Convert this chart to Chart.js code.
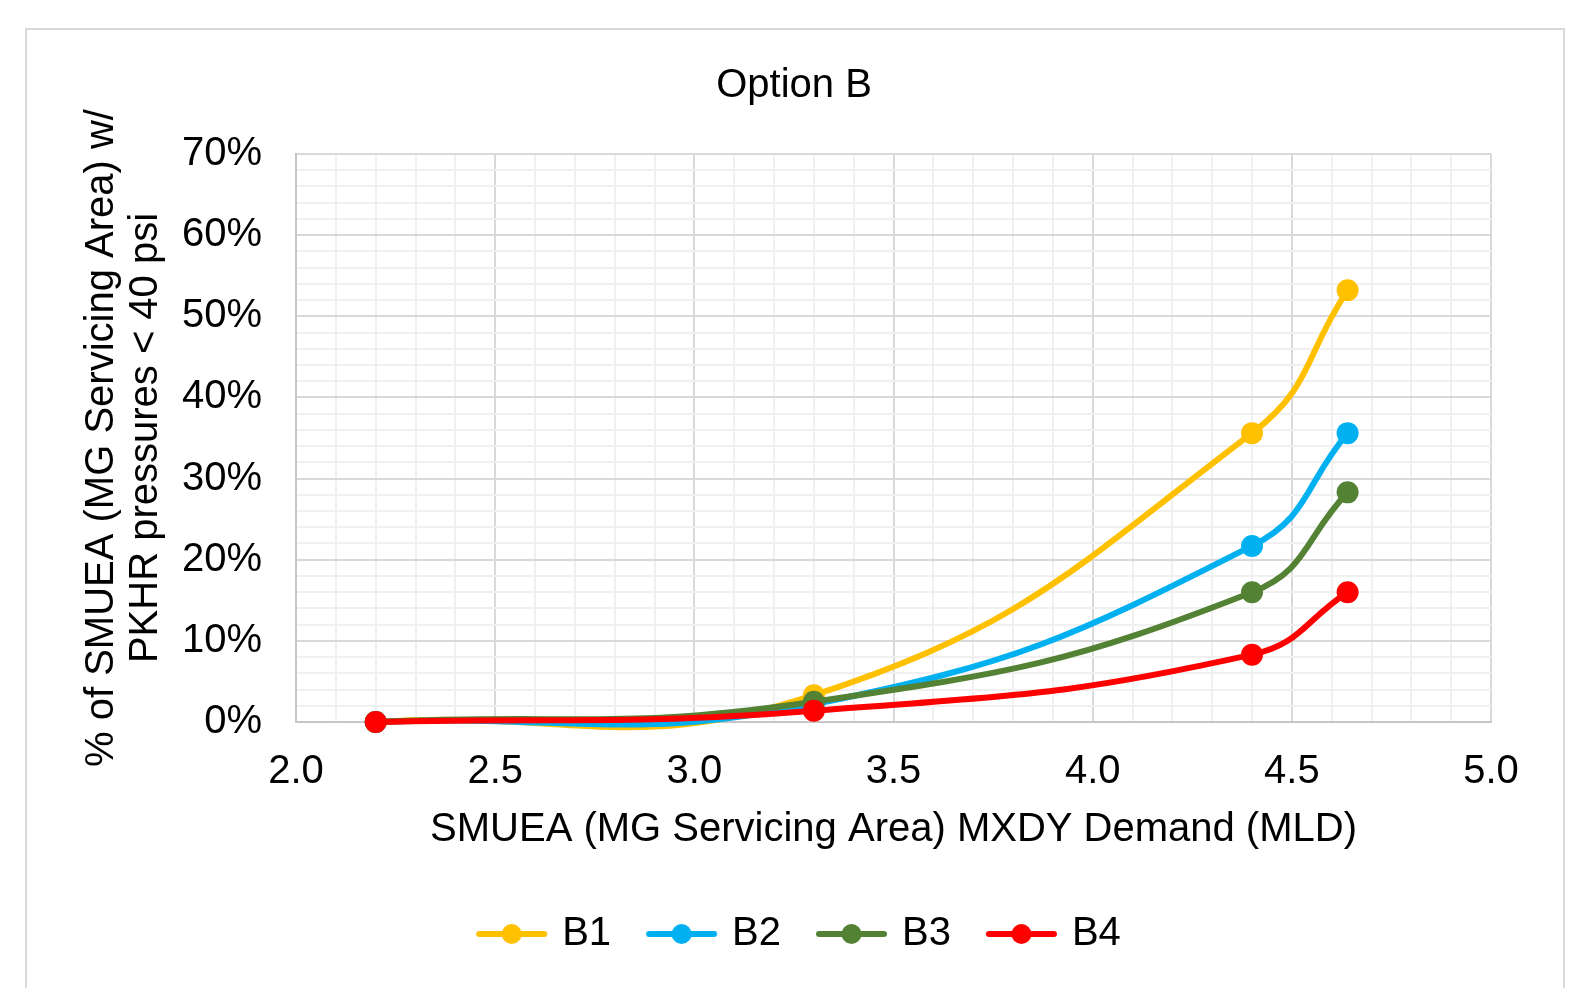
<!DOCTYPE html>
<html>
<head>
<meta charset="utf-8">
<script src="https://cdn.jsdelivr.net/npm/chart.js@4.4.1/dist/chart.umd.min.js"></script>
<style>
  html, body { margin: 0; padding: 0; background: #fff; overflow: hidden; }
  #frame { position: absolute; left: 25px; top: 28px; width: 1536px; height: 1000px; border: 2px solid #d9d9d9; }
  #wrap { position: absolute; left: 0; top: 0; width: 1588px; height: 988px; }
</style>
</head>
<body>
<div id="frame"></div>
<div id="wrap"><canvas id="canvas" width="1588" height="988"></canvas></div>
<script>
const demand = [2.2, 3.3, 4.4, 4.64]
const seriesNames = ['B1', 'B2', 'B3', 'B4']
const b1 = [0, 3.3, 35.6, 53.2]
const b2 = [0, 2.2, 21.7, 35.6]
const b3 = [0, 2.5, 16.0, 28.3]
const b4 = [0, 1.4, 8.3, 16.0]
const colors = ['#FFC000', '#00B0F0', '#548235', '#FF0000']

const FONT = "'Liberation Sans', Arial, sans-serif"
const FS = 40

// little line-with-dot marker for the legend, like Excel
function legendMarker(color) {
  const c = document.createElement('canvas')
  c.width = 73
  c.height = 24
  const ctx = c.getContext('2d')
  ctx.strokeStyle = color
  ctx.lineWidth = 6
  ctx.lineCap = 'round'
  ctx.beginPath()
  ctx.moveTo(4, 12)
  ctx.lineTo(69, 12)
  ctx.stroke()
  ctx.fillStyle = color
  ctx.beginPath()
  ctx.arc(36.5, 12, 10, 0, Math.PI * 2)
  ctx.fill()
  return c
}

const allSeries = [b1, b2, b3, b4]
const datasets = allSeries.map((vals, i) => ({
  label: seriesNames[i],
  data: demand.map((d, j) => ({ x: d, y: vals[j] })),
  borderColor: colors[i],
  backgroundColor: colors[i],
  borderWidth: 6,
  pointRadius: 11,
  pointHoverRadius: 11,
  pointBorderWidth: 0,
  tension: 0.45,
  capBezierPoints: false,
  clip: false,
  order: 3 - i,
}))

const isMajorX = v => Math.round(v * 10) % 5 === 0
const isMajorY = v => Math.round(v) % 10 === 0

// nudge the legend a bit to the right, it sits off-centre in the original
const legendShift = {
  id: 'legendShift',
  afterLayout(chart) {
    chart.legend.left += 7
    chart.legend.right += 7
  },
}

const config = {
  type: 'line',
  data: { datasets: datasets },
  plugins: [legendShift],
  options: {
    responsive: false,
    animation: false,
    layout: { padding: { left: 97, right: 97, top: 0, bottom: 24 } },
    plugins: {
      title: {
        display: true,
        text: 'Option B',
        color: '#000',
        font: { family: FONT, size: FS, weight: 'normal' },
        padding: { top: 62, bottom: 44 },
      },
      legend: {
        position: 'bottom',
        labels: {
          color: '#000',
          font: { family: FONT, size: FS },
          usePointStyle: true,
          pointStyleWidth: 61,
          padding: 40,
          generateLabels: chart => chart.data.datasets.map((ds, i) => ({
            text: ds.label,
            pointStyle: legendMarker(ds.borderColor),
            fillStyle: ds.borderColor,
            strokeStyle: ds.borderColor,
            lineWidth: 0,
            fontColor: '#000',
            hidden: false,
            datasetIndex: i,
          })),
        },
      },
      tooltip: { enabled: false },
    },
    scales: {
      x: {
        type: 'linear',
        min: 2,
        max: 5,
        ticks: {
          stepSize: 0.1,
          autoSkip: false,
          maxRotation: 0,
          minRotation: 0,
          padding: 26,
          color: '#000',
          font: { family: FONT, size: FS },
          callback: v => isMajorX(v) ? v.toFixed(1) : '',
        },
        grid: {
          drawTicks: false,
          lineWidth: 2,
          color: ctx => isMajorX(ctx.tick.value) ? '#d9d9d9' : '#f0f0f0',
        },
        border: { color: '#c6c6c6', width: 2 },
        title: {
          display: true,
          text: 'SMUEA (MG Servicing Area) MXDY Demand (MLD)',
          color: '#000',
          font: { family: FONT, size: FS },
          padding: { top: -16, bottom: 20 },
        },
      },
      y: {
        min: 0,
        max: 70,
        ticks: {
          stepSize: 2,
          autoSkip: false,
          padding: 34,
          color: '#000',
          font: { family: FONT, size: FS },
          callback: v => isMajorY(v) ? Math.round(v) + '%' : '',
        },
        grid: {
          drawTicks: false,
          lineWidth: 2,
          color: ctx => isMajorY(ctx.tick.value) ? '#d9d9d9' : '#f0f0f0',
        },
        border: { color: '#c6c6c6', width: 2 },
        title: {
          display: true,
          text: ['% of SMUEA (MG Servicing Area) w/', 'PKHR pressures < 40 psi'],
          color: '#000',
          font: { family: FONT, size: FS, lineHeight: 1.1 },
          padding: { top: -17, bottom: -20 },
        },
      },
    },
  },
}

const canvas = document.getElementById('canvas')
const chart = new Chart(canvas, config)
</script>
</body>
</html>
